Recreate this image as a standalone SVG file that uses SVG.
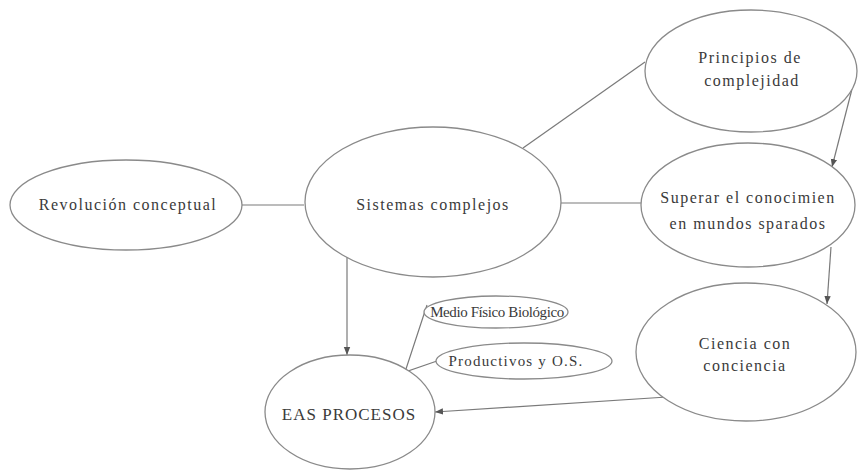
<svg xmlns="http://www.w3.org/2000/svg" width="859" height="471" viewBox="0 0 859 471">
<style>
.n{fill:#fff;stroke:#8a8a8a;stroke-width:1.3}
.t{font-family:"Liberation Serif","Times New Roman",serif;font-size:16px;fill:#3a3a3a;text-anchor:middle;letter-spacing:1.5px}
.c{stroke:#7a7a7a;stroke-width:1.2;fill:none}
</style>
<defs>
<marker id="ah" viewBox="0 0 10 10" refX="10" refY="5" markerWidth="8" markerHeight="8" markerUnits="userSpaceOnUse" orient="auto">
<path d="M0,1 L10,5 L0,9 Z" fill="#555"/>
</marker>
</defs>
<rect width="859" height="471" fill="#fff"/>
<g id="connectors">
<line class="c" x1="242" y1="205" x2="304" y2="205"/>
<line class="c" x1="523" y1="148" x2="645" y2="62"/>
<line class="c" x1="561" y1="203" x2="641" y2="203"/>
<line class="c" x1="852" y1="89" x2="832" y2="167" marker-end="url(#ah)"/>
<line class="c" x1="831" y1="247" x2="827" y2="304" marker-end="url(#ah)"/>
<line class="c" x1="347" y1="257" x2="347" y2="355" marker-end="url(#ah)"/>
<line class="c" x1="667" y1="397" x2="435" y2="412" marker-end="url(#ah)"/>
<polyline class="c" points="427,305 405,372 437,361"/>
</g>
<g id="revolucion">
<ellipse class="n" cx="126" cy="205" rx="116" ry="45"/>
<text class="t" x="128" y="210">Revolución conceptual</text>
</g>
<g id="sistemas">
<ellipse class="n" cx="433" cy="202" rx="128" ry="75"/>
<text class="t" x="433" y="210">Sistemas complejos</text>
</g>
<g id="principios">
<ellipse class="n" cx="751" cy="71" rx="106" ry="61"/>
<text class="t" x="750" y="63">Principios de</text>
<text class="t" x="752" y="86">complejidad</text>
</g>
<g id="superar">
<ellipse class="n" cx="748" cy="205" rx="107" ry="62"/>
<text class="t" x="748" y="203">Superar el conocimien</text>
<text class="t" x="748" y="229">en mundos sparados</text>
</g>
<g id="ciencia">
<ellipse class="n" cx="746" cy="352" rx="110" ry="69"/>
<text class="t" x="745" y="349">Ciencia con</text>
<text class="t" x="745" y="371">conciencia</text>
</g>
<g id="medio">
<ellipse class="n" cx="496" cy="312" rx="72" ry="16"/>
<text class="t" x="497" y="317" style="font-size:15px;letter-spacing:-0.4px">Medio Físico Biológico</text>
</g>
<g id="productivos">
<ellipse class="n" cx="524" cy="361" rx="88" ry="18"/>
<text class="t" x="516" y="366" style="font-size:15px;letter-spacing:1.2px">Productivos y O.S.</text>
</g>
<g id="eas">
<ellipse class="n" cx="350" cy="412" rx="85" ry="57"/>
<text class="t" x="349" y="420" style="font-size:17px;letter-spacing:1px">EAS PROCESOS</text>
</g>
</svg>
